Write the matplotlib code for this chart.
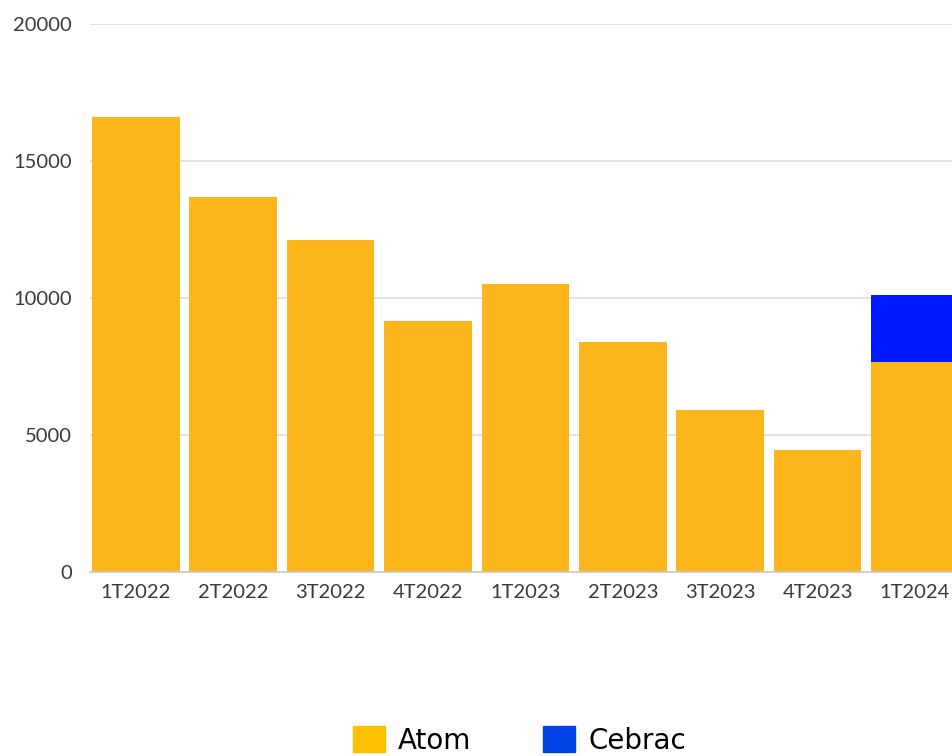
import matplotlib
matplotlib.use("Agg")
import matplotlib.pyplot as plt
import numpy as np
from matplotlib.patches import Patch

# ── Data ─────────────────────────────────────────────────────────────────
quarters = ["1T2022", "2T2022", "3T2022", "4T2022", "1T2023",
            "2T2023", "3T2023", "4T2023", "1T2024"]
atom = [16600, 13700, 12100, 9150, 10500, 8400, 5900, 4450, 7650]
cebrac = [0, 0, 0, 0, 0, 0, 0, 0, 2450]
y_ticks = [0, 5000, 10000, 15000, 20000]

BAR_YELLOW = "#FCB61C"
BAR_BLUE = "#0019FF"
LEG_YELLOW = "#FFC000"
LEG_BLUE = "#0044E8"

# ── Figure ───────────────────────────────────────────────────────────────
fig = plt.figure(figsize=(9.53, 7.56), dpi=100)
ax = fig.add_axes([0.0944, 0.2434, 0.9056, 0.7249])

x = np.arange(len(quarters))
ax.bar(x, atom, width=0.9, color=BAR_YELLOW, zorder=2)
ax.bar(x, cebrac, width=0.9, bottom=atom, color=BAR_BLUE, zorder=2)

ax.set_xlim(-0.47, 8.39)
ax.set_ylim(0, 20000)
ax.set_yticks(y_ticks)
ax.set_yticklabels([str(v) for v in y_ticks])
ax.set_xticks(x)
ax.set_xticklabels(quarters)

ax.grid(axis="y", color="#e0e0e0", lw=1.3, zorder=0)
ax.set_axisbelow(True)
for s in ["top", "right", "left"]:
    ax.spines[s].set_visible(False)
ax.spines["bottom"].set_color("#cccccc")
ax.spines["bottom"].set_linewidth(1.3)
ax.spines["bottom"].set_zorder(3)

ax.tick_params(axis="y", length=0, pad=13, labelsize=14.5, labelcolor="#3a3a3a")
ax.tick_params(axis="x", length=0, pad=9, labelsize=14.5, labelcolor="#3a3a3a")
for lbl in ax.get_xticklabels() + ax.get_yticklabels():
    lbl.set_family("Lato")

# ── Legend ───────────────────────────────────────────────────────────────
handles = [Patch(color=LEG_YELLOW, label="Atom"), Patch(color=LEG_BLUE, label="Cebrac")]
fig.legend(handles=handles, loc="center", bbox_to_anchor=(0.545, 0.021), ncol=2,
           frameon=False, prop={"family": "DejaVu Sans", "size": 20},
           handlelength=1.15, handleheight=1.1, handletextpad=0.47,
           columnspacing=2.6, borderpad=0)

fig.savefig("out.png", dpi=100)
